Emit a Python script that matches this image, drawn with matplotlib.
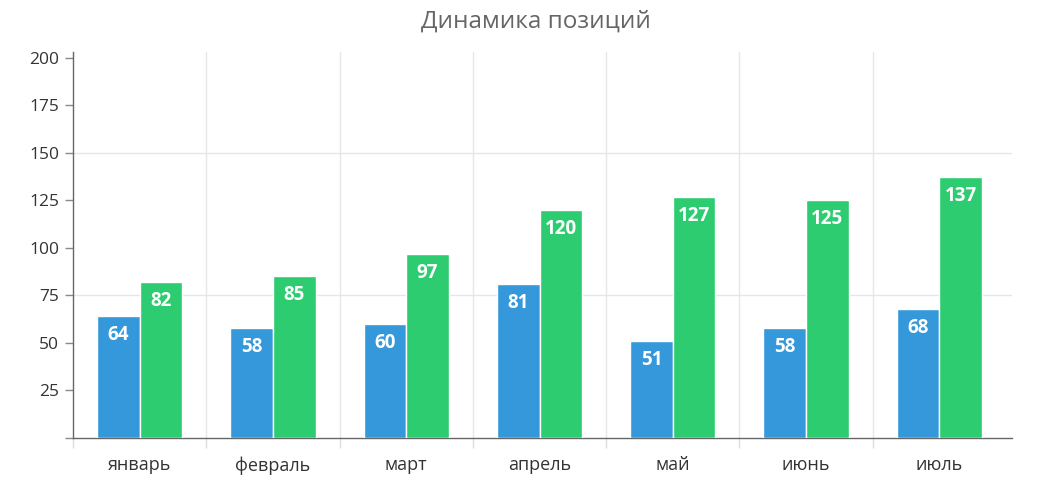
import matplotlib
matplotlib.use("Agg")
import matplotlib.pyplot as plt
import numpy as np

plt.rcParams['font.family'] = ['Open Sans', 'DejaVu Sans']

title = "Динамика позиций"
categories = ["январь", "февраль", "март", "апрель", "май", "июнь", "июль"]
series_a = [64, 58, 60, 81, 51, 58, 68]
series_b = [82, 85, 97, 120, 127, 125, 137]
yticks = [0, 25, 50, 75, 100, 125, 150, 175, 200]

color_a = "#3498db"
color_b = "#2ecc71"

fig = plt.figure(figsize=(10.58, 4.93), dpi=100)
ax = fig.add_axes([73/1058, 1 - 438/493, (1012 - 73)/1058, (438 - 52)/493])

x = np.arange(len(categories))
w = 0.32
bars_a = ax.bar(x - w/2, series_a, width=w, color=color_a, edgecolor="white", linewidth=1, zorder=3)
bars_b = ax.bar(x + w/2, series_b, width=w, color=color_b, edgecolor="white", linewidth=1, zorder=3)

for bars, vals in ((bars_a, series_a), (bars_b, series_b)):
    for b, v in zip(bars, vals):
        ax.annotate(str(v), (b.get_x() + b.get_width()/2, v), xytext=(0, -9),
                    textcoords="offset pixels", ha="center", va="top",
                    color="white", fontsize=13.5, fontweight="bold", zorder=4)

ax.set_xlim(-0.5, 6.545)
ax.set_ylim(0, 203)

# y axis
ax.set_yticks(yticks)
ax.set_yticklabels(["" if t == 0 else str(t) for t in yticks])
ax.tick_params(axis="y", length=6, width=1, color="#888888", labelsize=12.5,
               labelcolor="#333333", pad=4)

# x axis: boundaries as major ticks, labels at centers
boundaries = np.arange(-0.5, len(categories) - 0.5, 1.0)
ax.set_xticks(boundaries)
ax.set_xticklabels([])
ax.set_xticks(x, minor=True)
ax.set_xticklabels(categories, minor=True)
ax.tick_params(axis="x", which="major", length=7, width=1, color="#dddddd")
ax.tick_params(axis="x", which="minor", length=0, labelsize=13, labelcolor="#333333", pad=13)

for b in boundaries[1:]:
    ax.axvline(b, color="#e6e6e6", linewidth=1, zorder=1)
for yv in (75, 150):
    ax.axhline(yv, color="#e6e6e6", linewidth=1, zorder=1)

for s in ("top", "right"):
    ax.spines[s].set_visible(False)
ax.spines["left"].set_color("#666666")
ax.spines["bottom"].set_color("#666666")
ax.spines["left"].set_linewidth(1)
ax.spines["bottom"].set_linewidth(1)

fig.text(536/1058, 1 - 22/493, title, ha="center", va="center", fontsize=17.5, color="#666666")

fig.savefig("out.png", dpi=100)
